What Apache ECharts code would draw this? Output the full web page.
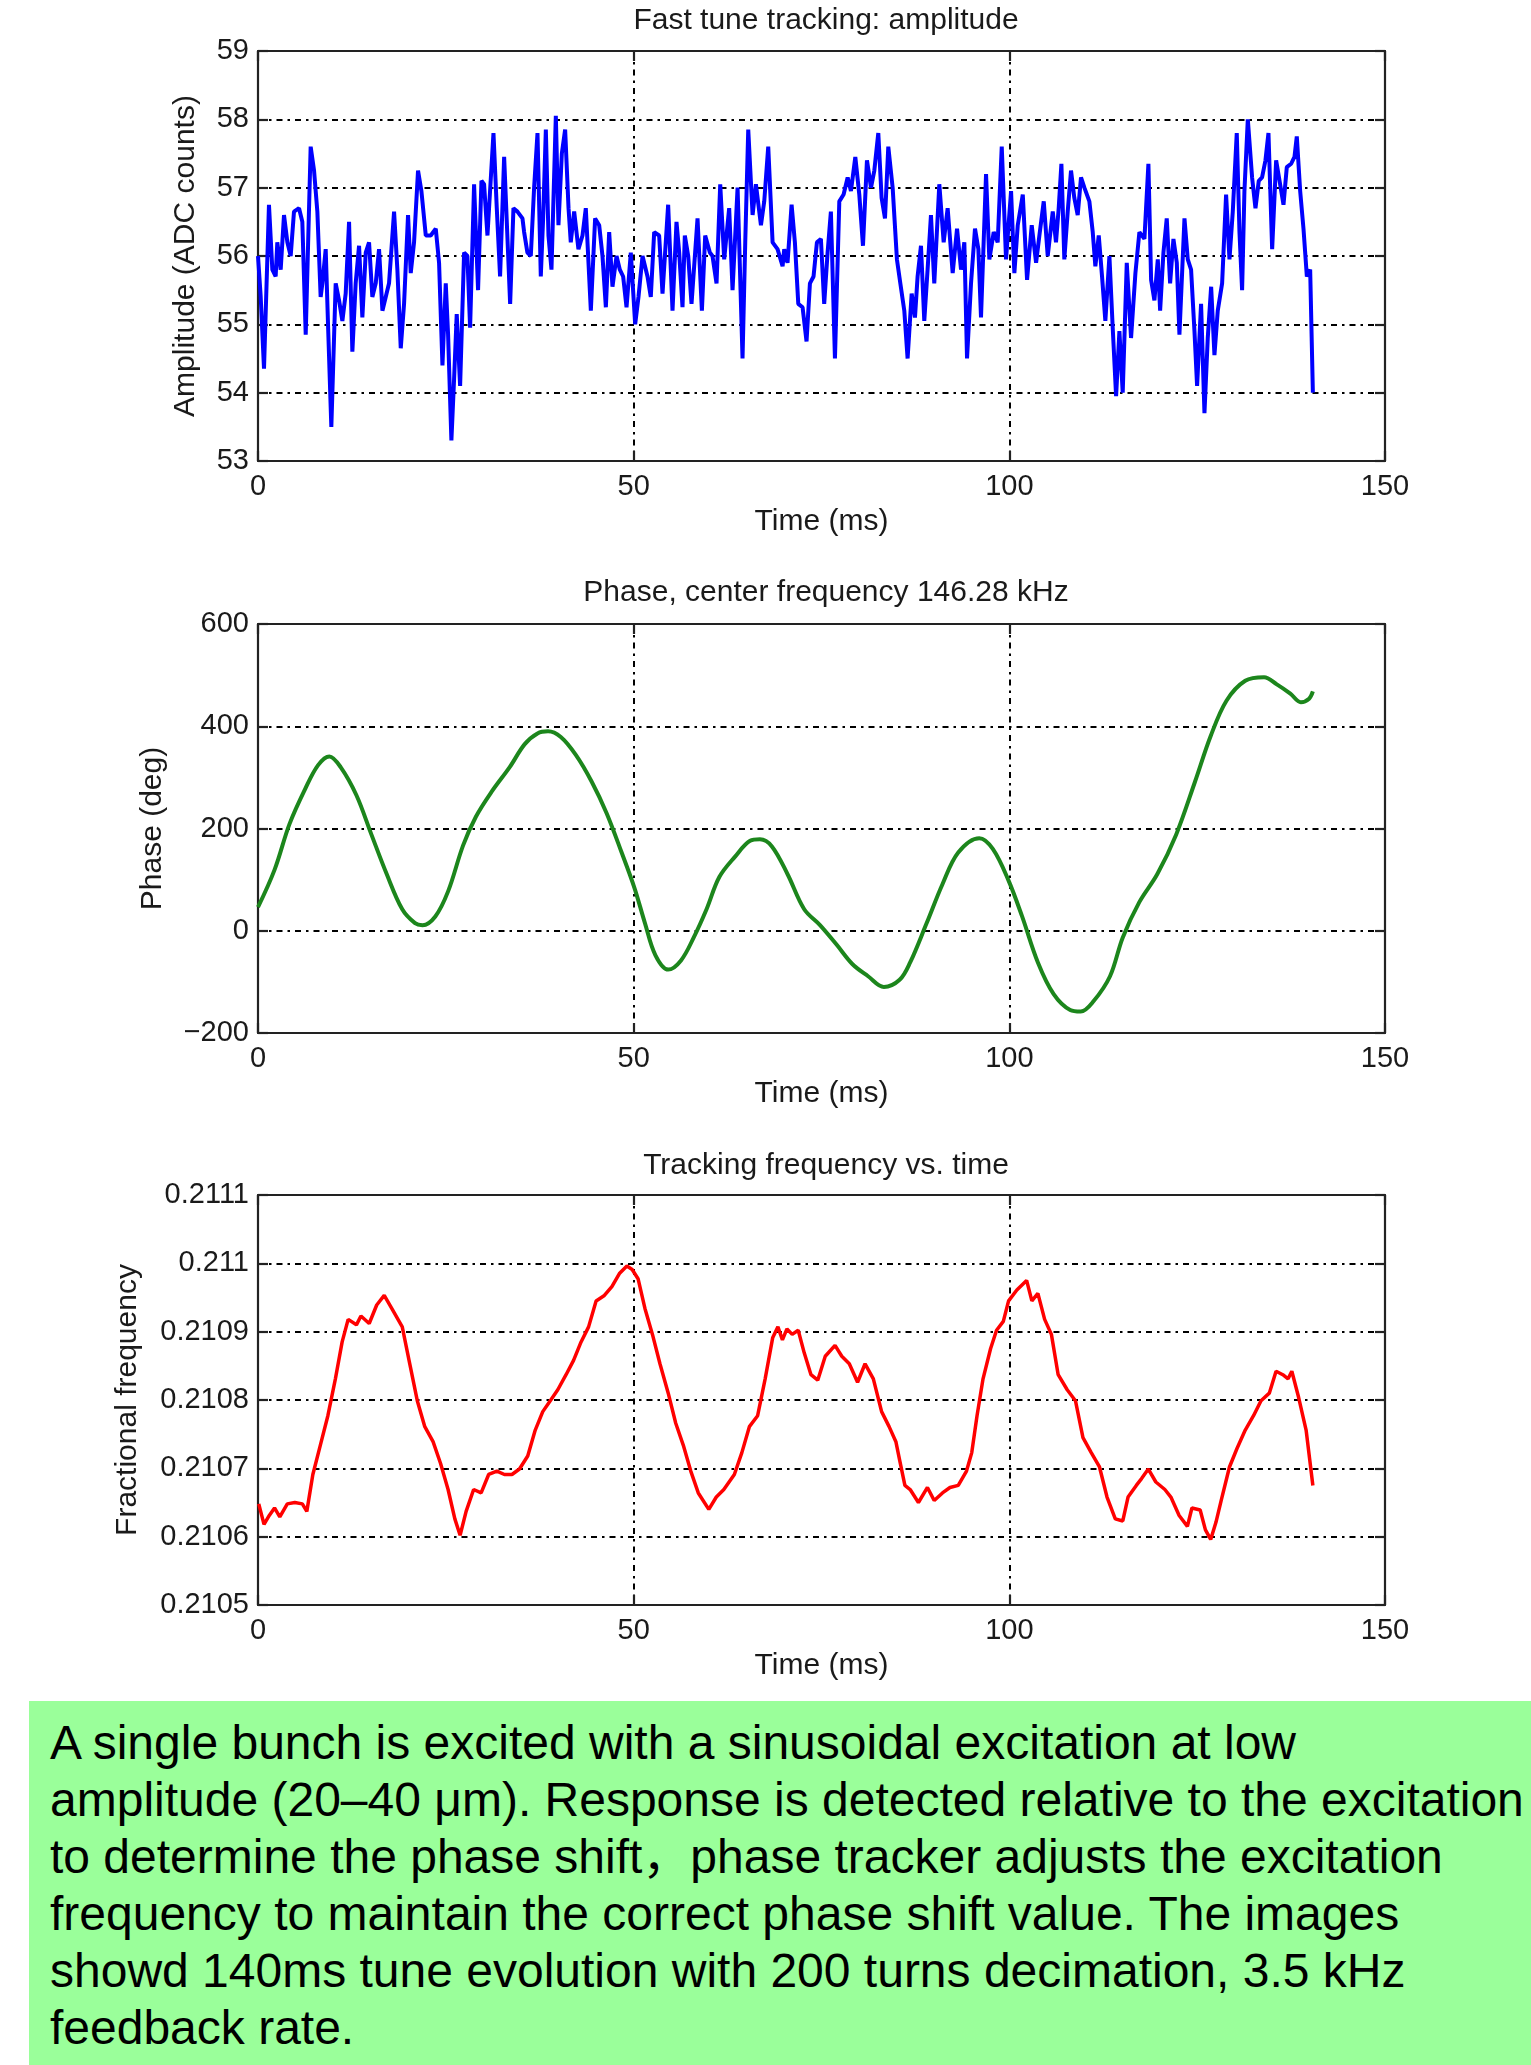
<!DOCTYPE html>
<html>
<head>
<meta charset="utf-8">
<script src="https://cdn.jsdelivr.net/npm/echarts@6/dist/echarts.min.js"></script>
<style>
  html, body { margin: 0; padding: 0; background: #fff; }
  #chart { position: absolute; left: 0; top: 0; width: 1531px; height: 1700px; }
  #caption {
    position: absolute; left: 29px; top: 1701px; width: 1502px; height: 364px;
    background: #9aff9a; box-sizing: border-box; padding: 13px 0 0 21px;
    font-family: "Liberation Sans", Arial, "Noto Sans CJK SC", sans-serif;
    font-size: 48px; line-height: 57px; color: #000; white-space: nowrap;
  }
</style>
</head>
<body>
<div id="chart"></div>
<div id="caption">A single bunch is excited with a sinusoidal excitation at low<br>amplitude (20–40 μm). Response is detected relative to the excitation<br>to determine the phase shift，phase tracker adjusts the excitation<br>frequency to maintain the correct phase shift value. The images<br>showd 140ms tune evolution with 200 turns decimation, 3.5 kHz<br>feedback rate.</div>
<script>
// ---- titles / labels ----
const plotTitles = ["Fast tune tracking: amplitude", "Phase, center frequency 146.28 kHz", "Tracking frequency vs. time"];
const yNames = ["Amplitude (ADC counts)", "Phase (deg)", "Fractional frequency"];
const xName = "Time (ms)";
const timeTicks = [0, 50, 100, 150];
const ampTicks = [53, 54, 55, 56, 57, 58, 59];
const phaseTicks = [-200, 0, 200, 400, 600];
const freqTicks = [0.2105, 0.2106, 0.2107, 0.2108, 0.2109, 0.2110, 0.2111];

// ---- data: [time ms, value] ----
const amplitudeData = [[0,56.0],[0.36,55.4],[0.8,54.35],[1.46,56.75],[1.91,55.8],[2.35,55.7],[2.57,56.2],[3.02,55.8],[3.46,56.6],[3.91,56.2],[4.35,56.0],[4.79,56.65],[5.46,56.7],[5.9,56.5],[6.35,54.85],[7.01,57.6],[7.46,57.25],[7.9,56.65],[8.34,55.4],[8.57,55.6],[9.01,56.1],[9.32,55.0],[9.76,53.5],[10.34,55.6],[10.79,55.35],[11.23,55.05],[11.67,55.45],[12.12,56.5],[12.56,54.6],[13.0,55.6],[13.45,56.15],[13.89,55.1],[14.34,56.05],[14.78,56.2],[15.22,55.4],[15.67,55.6],[16.11,56.1],[16.56,55.2],[17.0,55.4],[17.44,55.6],[18.11,56.65],[18.55,55.8],[19.0,54.65],[19.44,55.3],[19.97,56.6],[20.33,55.75],[20.77,56.2],[21.3,57.25],[21.75,56.95],[22.33,56.3],[22.99,56.3],[23.66,56.4],[24.1,55.9],[24.55,54.4],[24.99,55.6],[25.3,54.85],[25.74,53.3],[26.1,54.2],[26.45,55.15],[26.9,54.1],[27.43,56.05],[27.87,56.0],[28.23,54.95],[28.76,57.05],[29.29,55.5],[29.74,57.1],[30.09,57.05],[30.54,56.3],[31.34,57.8],[31.78,56.7],[32.22,55.7],[32.76,57.45],[33.56,55.3],[34.0,56.7],[34.53,56.65],[35.2,56.55],
[35.42,56.35],[35.86,56.05],[36.31,56.0],[36.75,57.0],[37.2,57.8],[37.64,55.7],[37.95,56.55],[38.31,57.85],[38.66,56.3],[39.06,55.8],[39.64,58.05],[39.99,56.45],[40.44,57.5],[40.88,57.85],[41.33,56.7],[41.63,56.2],[42.08,56.65],[42.65,56.1],[43.19,56.3],[43.63,56.7],[44.3,55.2],[44.87,56.55],[45.41,56.45],[45.85,56.0],[46.3,55.25],[46.74,56.35],[47.18,55.55],[47.72,56.0],[48.16,55.8],[48.6,55.7],[49.05,55.25],[49.62,56.05],[50.2,55.0],[50.64,55.4],[51.18,56.0],[51.84,55.7],[52.28,55.4],[52.73,56.35],[53.39,56.3],[53.84,55.45],[54.59,56.75],[55.17,55.2],[55.7,56.5],[56.06,56.05],[56.5,55.25],[56.81,56.3],[57.26,56.0],[57.7,55.3],[58.5,56.55],[59.08,55.2],[59.52,56.3],[60.14,56.05],[60.49,56.0],[61.03,55.6],[61.52,57.05],[62.05,55.95],[62.71,56.7],[63.16,55.5],[63.83,57.0],[64.49,54.5],[64.85,56.2],[65.25,57.85],[65.83,56.6],[66.27,57.05],[66.94,56.45],[67.38,56.8],[67.91,57.6],[68.49,56.2],[69.15,56.1],[69.82,55.85],
[70.04,56.1],[70.48,55.9],[71.02,56.75],[71.46,56.2],[71.91,55.3],[72.48,55.25],[73.01,54.75],[73.46,55.6],[73.94,55.7],[74.39,56.2],[74.92,56.25],[75.36,55.3],[75.81,56.05],[76.25,56.65],[76.79,54.5],[77.37,56.8],[77.94,56.9],[78.48,57.15],[78.92,56.95],[79.5,57.45],[80.03,56.9],[80.52,56.15],[81.05,57.4],[81.59,57.0],[82.03,57.25],[82.56,57.8],[83.0,56.85],[83.45,56.55],[83.89,57.6],[84.47,57.0],[85.04,55.95],[85.49,55.6],[86.02,55.2],[86.46,54.5],[87.0,55.45],[87.44,55.1],[87.79,55.7],[88.24,56.15],[88.68,55.05],[89.12,55.8],[89.57,56.6],[90.01,55.6],[90.68,57.05],[91.26,56.2],[91.79,56.7],[92.46,55.75],[93.04,56.4],[93.57,55.8],[94.01,56.2],[94.37,54.5],[94.9,55.6],[95.43,56.4],[95.88,56.1],[96.23,55.1],[96.9,57.2],[97.34,55.95],[97.92,56.35],[98.45,56.2],[98.99,57.6],[99.56,55.95],[100.23,56.95],[100.67,55.75],[101.12,56.45],[101.79,56.9],[102.36,55.65],[102.98,56.45],[103.56,55.9],[104.0,56.3],[104.58,56.8],[105.11,56.0],[105.78,56.65],
[106.21,56.2],[106.57,56.7],[106.93,57.35],[107.32,55.95],[107.77,56.65],[108.21,57.25],[108.65,56.85],[109.1,56.6],[109.54,57.15],[109.99,57.0],[110.65,56.8],[111.1,56.35],[111.45,55.85],[111.9,56.3],[112.34,55.7],[112.78,55.05],[113.32,56.0],[113.76,54.95],[114.21,53.95],[114.65,54.9],[115.09,54.0],[115.63,55.9],[116.2,54.8],[116.78,55.75],[117.31,56.35],[117.98,56.25],[118.51,57.35],[118.87,55.65],[119.31,55.35],[119.76,55.95],[120.07,55.2],[120.51,56.05],[120.95,56.55],[121.4,55.6],[121.84,56.25],[122.29,55.9],[122.64,54.85],[123.31,56.55],[123.75,55.95],[124.19,55.8],[124.64,54.9],[124.99,54.1],[125.52,55.3],[125.97,53.7],[126.41,54.8],[126.86,55.55],[127.3,54.55],[127.74,55.2],[128.32,55.6],[128.85,56.9],[129.3,55.95],[129.74,56.65],[130.27,57.8],[130.63,56.35],[130.98,55.5],[131.29,56.95],[131.74,58.0],[132.31,57.15],[132.76,56.7],[133.2,57.1],[133.64,57.15],[134.09,57.4],[134.49,57.8],[134.98,56.1],[135.51,57.4],[136.04,57.05],[136.49,56.75],[136.93,57.3],[137.51,57.35],[137.95,57.45],[138.26,57.75],[138.71,56.95],[139.15,56.4],[139.6,55.7],[140.04,55.8],[140.4,54.0]];

const phaseData = [[0,46],[2.2,119],[4.2,209],[6.3,278],[8.0,324],[9.5,341],[11.0,320],[13.1,265],[15.1,188],[17.1,112],[19.2,42],[20.9,15],[21.9,11],[23.6,28],[25.3,77],[27.3,167],[29.0,223],[31.1,272],[33.5,320],[35.5,365],[37.2,386],[38.6,390],[40.3,379],[42.3,344],[44.4,292],[46.4,230],[48.4,153],[50.1,84],[51.5,15],[52.9,-48],[54.6,-76],[56.3,-58],[58.0,-13],[59.7,42],[61.4,105],[63.5,145],[65.5,176],[66.8,179],[68.4,165],[70.5,110],[72.7,42],[74.8,11],[77.0,-27],[79.1,-65],[81.2,-89],[83.3,-110],[85.4,-96],[86.8,-62],[89.0,15],[91.1,91],[93.2,153],[96.0,181],[97.8,160],[99.9,98],[101.7,28],[103.8,-62],[105.9,-124],[108.1,-155],[109.5,-158],[111.2,-138],[113.4,-89],[115.1,-13],[117.3,56],[119.7,111],[122.2,188],[124.7,291],[126.8,381],[128.9,450],[131.4,489],[133.9,496],[135.6,482],[137.4,464],[138.8,447],[139.9,454],[140.4,468]];

const frequencyData = [[0.1,0.210648],[0.8,0.210618],[1.5,0.210631],[2.2,0.210642],[2.9,0.210629],[3.9,0.210648],[4.9,0.210650],[5.9,0.210648],[6.5,0.210637],[7.3,0.210691],[8.3,0.210734],[9.3,0.210777],[10.3,0.210831],[11.2,0.210885],[12.0,0.210918],[13.1,0.210910],[13.7,0.210923],[14.8,0.210912],[15.8,0.210939],[16.8,0.210953],[17.8,0.210934],[19.2,0.210907],[20.2,0.210853],[21.2,0.210799],[22.2,0.210761],[23.3,0.210739],[24.3,0.210707],[25.3,0.210669],[26.2,0.210626],[26.9,0.210602],[27.7,0.210637],[28.7,0.210669],[29.7,0.210664],[30.7,0.210691],[31.8,0.210696],[32.8,0.210691],[33.8,0.210691],[34.8,0.210699],[35.9,0.210718],[36.9,0.210756],[37.9,0.210783],[38.9,0.210799],[39.9,0.210815],[41.0,0.210837],[42.0,0.210858],[43.0,0.210885],[44.0,0.210907],[45.0,0.210945],[46.1,0.210953],[47.1,0.210966],[48.1,0.210985],[49.1,0.210996],[49.8,0.210991],[50.6,0.210977],[51.5,0.210934],[52.5,0.210896],[53.5,0.210853],[54.6,0.210810],[55.6,0.210766],[56.6,0.210734],[57.6,0.210696],[58.6,0.210664],[60.0,0.210640],[61.0,0.210658],[62.0,0.210669],[63.4,0.210691],[64.4,0.210723],[65.4,0.210761],[66.5,0.210777],[67.5,0.210831],[68.5,0.210891],[69.2,0.210907],[69.8,0.210888],[70.4,0.210904],[71.1,0.210896],[71.9,0.210902],[72.7,0.210869],[73.6,0.210837],[74.5,0.210829],[75.5,0.210864],[76.8,0.210880],[77.7,0.210864],[78.7,0.210853],[79.8,0.210826],[80.8,0.210853],[81.9,0.210831],[83.0,0.210783],[84.0,0.210761],[84.9,0.210739],[85.4,0.210712],[86.1,0.210675],[86.8,0.210669],[87.9,0.210650],[89.1,0.210672],[90.0,0.210653],[91.1,0.210664],[92.1,0.210672],[93.2,0.210675],[94.3,0.210696],[95.0,0.210723],[95.7,0.210777],[96.5,0.210831],[97.5,0.210875],[98.3,0.210902],[99.2,0.210915],[99.9,0.210945],[101.0,0.210961],[102.3,0.210975],[103.0,0.210945],[103.8,0.210956],[104.7,0.210918],[105.6,0.210896],[106.5,0.210837],[107.7,0.210815],[108.8,0.210799],[109.8,0.210745],[110.9,0.210723],[112.0,0.210702],[113.0,0.210658],[114.1,0.210626],[115.1,0.210623],[115.8,0.210658],[116.9,0.210675],[117.6,0.210685],[118.5,0.210699],[119.5,0.210680],[120.7,0.210669],[121.5,0.210658],[122.6,0.210631],[123.7,0.210615],[124.3,0.210642],[125.4,0.210639],[126.1,0.210610],[126.8,0.210596],[127.5,0.210621],[128.2,0.210653],[129.3,0.210702],[130.3,0.210729],[131.4,0.210756],[132.5,0.210777],[133.5,0.210799],[134.6,0.210810],[135.5,0.210842],[136.4,0.210837],[137.1,0.210831],[137.6,0.210842],[138.5,0.210804],[139.5,0.210756],[140.4,0.210675]];

// ---- layout ----
const FONT = '"Liberation Sans", Arial, Helvetica, sans-serif';
const TXT = '#1a1a1a';
const AX = '#222';
const grids = [
  { left: 258, top: 51, width: 1127, height: 410 },
  { left: 258, top: 624, width: 1127, height: 409 },
  { left: 258, top: 1195, width: 1127, height: 410 }
];
const yGaps = [57, 90, 115];
const titleTops = [1, 573, 1146];
const yTickSets = [ampTicks, phaseTicks, freqTicks];
const yFormat = [
  v => String(v),
  v => (v < 0 ? '\u2212' + Math.abs(v) : String(v)),
  v => String(+(+v).toFixed(4))
];
const gridLine = { show: true, lineStyle: { color: '#000', width: 2, type: [6, 5, 2.5, 5] } };
const lineAx = { show: true, onZero: false, lineStyle: { color: AX, width: 2.2 } };
const tickIn = { show: true, inside: true, length: 10, lineStyle: { color: AX, width: 2.2 } };

const xAxes = [], yAxes = [], titles = [];
grids.forEach((g, i) => {
  titles.push({ text: plotTitles[i], left: 821, top: titleTops[i], textAlign: 'center',
    textStyle: { fontFamily: FONT, fontSize: 30, fontWeight: 'normal', color: TXT } });
  xAxes.push({ gridIndex: i, type: 'value', position: 'bottom',
    min: timeTicks[0], max: timeTicks[timeTicks.length - 1], interval: timeTicks[1] - timeTicks[0],
    axisLine: lineAx, axisTick: tickIn, splitLine: gridLine,
    axisLabel: { fontFamily: FONT, fontSize: 29, color: TXT, margin: 11 },
    name: xName, nameLocation: 'middle', nameGap: 46,
    nameTextStyle: { fontFamily: FONT, fontSize: 30, color: TXT } });
  xAxes.push({ gridIndex: i, type: 'value', position: 'top',
    min: timeTicks[0], max: timeTicks[timeTicks.length - 1], interval: timeTicks[1] - timeTicks[0],
    axisLine: lineAx, axisTick: tickIn, splitLine: { show: false }, axisLabel: { show: false } });
  const yt = yTickSets[i];
  const step = +(yt[1] - yt[0]).toPrecision(6);
  yAxes.push({ gridIndex: i, type: 'value', position: 'left',
    min: yt[0], max: yt[yt.length - 1], interval: step,
    axisLine: lineAx, axisTick: tickIn, splitLine: gridLine,
    axisLabel: { fontFamily: FONT, fontSize: 29, color: TXT, margin: 9, formatter: yFormat[i] },
    name: yNames[i], nameLocation: 'middle', nameGap: yGaps[i],
    nameTextStyle: { fontFamily: FONT, fontSize: 30, color: TXT } });
  yAxes.push({ gridIndex: i, type: 'value', position: 'right',
    min: yt[0], max: yt[yt.length - 1], interval: step,
    axisLine: lineAx, axisTick: tickIn, splitLine: { show: false }, axisLabel: { show: false } });
});

const series = [
  { type: 'line', xAxisIndex: 0, yAxisIndex: 0, data: amplitudeData, showSymbol: false,
    lineStyle: { color: '#0000ff', width: 4 }, z: 1 },
  { type: 'line', xAxisIndex: 2, yAxisIndex: 2, data: phaseData, showSymbol: false, smooth: 0.35,
    lineStyle: { color: '#1c861c', width: 4 }, z: 1 },
  { type: 'line', xAxisIndex: 4, yAxisIndex: 4, data: frequencyData, showSymbol: false,
    lineStyle: { color: '#ff0000', width: 3.5 }, z: 1 }
];

const chart = echarts.init(document.getElementById('chart'), null, { renderer: 'canvas' });
chart.setOption({
  animation: false,
  backgroundColor: '#fff',
  title: titles,
  grid: grids.map(g => Object.assign({ containLabel: false }, g)),
  xAxis: xAxes,
  yAxis: yAxes,
  series: series
});
</script>
</body>
</html>
